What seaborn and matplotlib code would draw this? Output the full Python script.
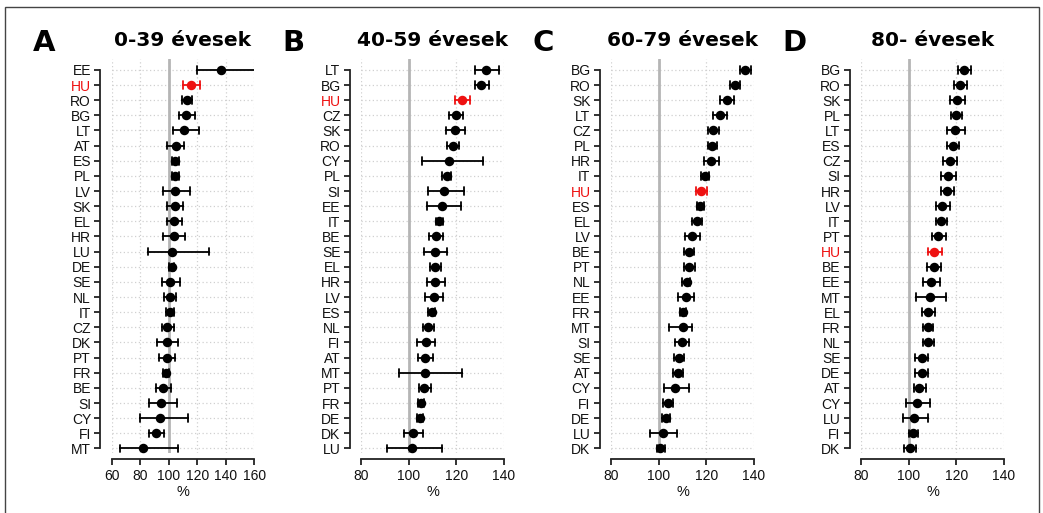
import matplotlib
matplotlib.use("Agg")
import matplotlib.pyplot as plt
from matplotlib.patches import Rectangle
import seaborn as sns
import pandas as pd

# panel A: 0-39
a_countries = ['EE', 'HU', 'RO', 'BG', 'LT', 'AT', 'ES', 'PL', 'LV', 'SK', 'EL', 'HR', 'LU',
               'DE', 'SE', 'NL', 'IT', 'CZ', 'DK', 'PT', 'FR', 'BE', 'SI', 'CY', 'FI', 'MT']
a_est = [137.0, 115.7, 112.7, 112.5, 111.1, 105.0, 104.5, 104.5, 104.3, 104.3, 103.8, 103.6, 102.6,
         102.2, 101.2, 101.0, 101.0, 99.1, 98.9, 98.9, 98.2, 96.3, 94.4, 94.0, 91.1, 81.8]
a_lo = [119.7, 110.1, 109.4, 107.1, 103.1, 99.1, 102.2, 102.4, 96.3, 99.1, 98.6, 96.3, 85.3,
        100.5, 95.1, 97.0, 97.9, 95.1, 91.9, 93.0, 96.3, 91.4, 86.2, 80.1, 86.0, 65.9]
a_hi = [160.5, 122.1, 116.2, 118.8, 121.1, 110.8, 107.5, 107.1, 114.8, 110.4, 109.4, 111.5, 128.4,
        103.8, 108.0, 105.2, 103.8, 103.8, 106.4, 104.7, 100.3, 101.7, 105.7, 113.6, 96.8, 106.4]

# panel B: 40-59
b_countries = ['LT', 'BG', 'HU', 'CZ', 'SK', 'RO', 'CY', 'PL', 'SI', 'EE', 'IT', 'BE', 'SE',
               'EL', 'HR', 'LV', 'ES', 'NL', 'FI', 'AT', 'MT', 'PT', 'FR', 'DE', 'DK', 'LU']
b_est = [132.6, 130.6, 122.5, 119.7, 119.6, 118.6, 116.9, 115.9, 114.8, 114.1, 112.8, 111.4, 111.1,
         111.1, 111.0, 110.6, 109.7, 108.3, 107.1, 106.9, 106.8, 106.5, 105.1, 104.7, 101.9, 101.2]
b_lo = [127.7, 128.0, 119.6, 117.0, 115.6, 116.3, 105.5, 113.8, 108.1, 107.5, 111.3, 108.6, 106.6,
        109.0, 107.5, 106.9, 108.3, 106.1, 103.4, 104.1, 95.7, 104.3, 103.7, 103.4, 98.1, 90.9]
b_hi = [138.2, 133.7, 125.9, 122.8, 123.9, 121.2, 131.3, 118.0, 123.1, 122.2, 114.6, 114.5, 116.0,
        113.5, 115.1, 114.6, 111.1, 110.7, 111.1, 110.2, 122.6, 109.2, 106.6, 106.2, 105.8, 113.9]

# panel C: 60-79
c_countries = ['BG', 'RO', 'SK', 'LT', 'CZ', 'PL', 'HR', 'IT', 'HU', 'ES', 'EL', 'LV', 'BE',
               'PT', 'NL', 'EE', 'FR', 'MT', 'SI', 'SE', 'AT', 'CY', 'FI', 'DE', 'LU', 'DK']
c_est = [136.5, 132.0, 128.8, 125.7, 122.9, 122.6, 122.1, 119.4, 117.9, 117.4, 115.9, 113.9, 112.7,
         112.8, 111.7, 111.3, 110.2, 110.2, 109.7, 108.5, 108.1, 106.8, 104.0, 103.0, 101.9, 100.6]
c_lo = [134.1, 129.9, 126.0, 122.9, 120.8, 120.8, 119.0, 117.7, 115.6, 115.9, 113.9, 111.1, 110.7,
        110.6, 109.9, 108.2, 108.9, 104.5, 106.9, 106.5, 105.9, 102.0, 101.9, 101.5, 96.1, 99.4]
c_hi = [139.0, 134.3, 131.8, 128.8, 125.4, 124.6, 125.3, 121.2, 120.5, 119.1, 118.4, 117.3, 114.9,
        115.1, 113.2, 114.8, 111.4, 113.9, 112.8, 110.6, 110.0, 112.7, 106.1, 104.7, 107.8, 102.6]

# panel D: 80-
d_countries = ['BG', 'RO', 'SK', 'PL', 'LT', 'ES', 'CZ', 'SI', 'HR', 'LV', 'IT', 'PT', 'HU',
               'BE', 'EE', 'MT', 'EL', 'FR', 'NL', 'SE', 'DE', 'AT', 'CY', 'LU', 'FI', 'DK']
d_est = [123.3, 121.6, 120.5, 119.9, 119.6, 118.5, 117.4, 116.7, 116.1, 114.1, 113.7, 112.4, 110.7,
         110.6, 109.5, 108.8, 108.2, 108.2, 108.1, 105.7, 105.4, 104.5, 103.5, 102.3, 101.8, 100.4]
d_lo = [120.7, 119.0, 117.4, 117.8, 116.3, 116.3, 114.6, 113.4, 113.4, 111.3, 111.3, 109.6, 107.9,
        107.8, 105.9, 103.0, 105.7, 106.2, 105.9, 102.8, 102.5, 102.1, 98.7, 97.6, 99.9, 97.9]
d_hi = [126.4, 124.7, 123.8, 122.6, 123.6, 121.2, 120.5, 119.9, 119.1, 117.2, 116.0, 115.5, 114.0,
        113.7, 113.2, 115.6, 111.0, 110.2, 110.6, 108.3, 108.3, 107.2, 108.9, 108.1, 104.0, 103.1]

panel_letters = ['A', 'B', 'C', 'D']
panel_titles = ['0-39 évesek', '40-59 évesek', '60-79 évesek', '80- évesek']
panel_xticks = [[60, 80, 100, 120, 140, 160], [80, 100, 120, 140],
                [80, 100, 120, 140], [80, 100, 120, 140]]

panels = [(a_countries, a_est, a_lo, a_hi), (b_countries, b_est, b_lo, b_hi),
          (c_countries, c_est, c_lo, c_hi), (d_countries, d_est, d_lo, d_hi)]

sns.set_style("white")
plt.rcParams['font.family'] = ['Liberation Sans', 'DejaVu Sans']
plt.rcParams['text.color'] = 'black'
plt.rcParams['axes.labelcolor'] = 'black'

W, H = 1043, 513
fig = plt.figure(figsize=(W / 100, H / 100), dpi=100)

RED = '#ee1111'
lefts_px = [111.7, 361.3, 611.3, 861.3]
width_px = 142.4
top_px, bottom_px = 59, 453

for i, (countries, est, lo, hi) in enumerate(panels):
    # long table: lower, estimate, upper per country -> median = estimate, min/max = CI
    rows = []
    for c, e, l, h in zip(countries, est, lo, hi):
        grp = 'HU' if c == 'HU' else 'other'
        for v in (l, e, h):
            rows.append({'country': c, 'value': v, 'grp': grp})
    df = pd.DataFrame(rows)

    ax = fig.add_axes([lefts_px[i] / W, 1 - bottom_px / H,
                       width_px / W, (bottom_px - top_px) / H])
    xt = panel_xticks[i]
    ax.axvline(100, color='#b5b5b5', lw=2, zorder=1)
    sns.pointplot(data=df, x='value', y='country', order=countries, hue='grp',
                  hue_order=['other', 'HU'], palette={'other': 'black', 'HU': RED},
                  estimator='median', errorbar=lambda v: (min(v), max(v)),
                  orient='h', linestyle='none', capsize=0.5, markersize=4.8,
                  err_kws={'linewidth': 1.3}, legend=False, ax=ax, zorder=3)

    ax.set_xlim(xt[0], xt[-1])
    ax.set_ylim(25.3, -0.72)
    ax.set_xticks(xt)
    ax.grid(True, color='#d0d0d0', linestyle=(0, (1, 2)), linewidth=0.9)
    ax.set_axisbelow(True)
    for s in ('top', 'right'):
        ax.spines[s].set_visible(False)
    ax.spines['left'].set_position(('outward', 8.4))
    ax.spines['left'].set_bounds(0, len(countries) - 1)
    ax.spines['bottom'].set_position(('outward', 4.3))
    ax.spines['bottom'].set_bounds(xt[0], xt[-1])
    for s in ('left', 'bottom'):
        ax.spines[s].set_color('#222222')
        ax.spines[s].set_linewidth(1.3)
    ax.tick_params(axis='both', length=4.5, width=1.3, color='#222222',
                   labelsize=10, labelcolor='#111111', bottom=True, left=True)
    ax.tick_params(axis='y', pad=2)
    ax.tick_params(axis='x', pad=3)
    for lab in ax.get_yticklabels():
        if lab.get_text() == 'HU':
            lab.set_color(RED)
    ax.set_ylabel('')
    ax.set_xlabel('%', fontsize=10.5, labelpad=1, color='#111111')

    cx = (lefts_px[i] + width_px / 2) / W
    fig.text(cx, 1 - 41 / H, panel_titles[i], ha='center', va='center',
             fontsize=14.5, fontweight='bold', family='DejaVu Sans', color='black')
    fig.text((lefts_px[i] - 79) / W, 1 - 43 / H, panel_letters[i], ha='left', va='center',
             fontsize=21, fontweight='bold', family='DejaVu Sans', color='black')

fig.add_artist(Rectangle((5 / W, -0.05), (1039 - 5) / W, 1.05 - 7 / H,
                         transform=fig.transFigure, fill=False,
                         edgecolor='#444444', linewidth=1))

fig.savefig('out.png', dpi=100)
